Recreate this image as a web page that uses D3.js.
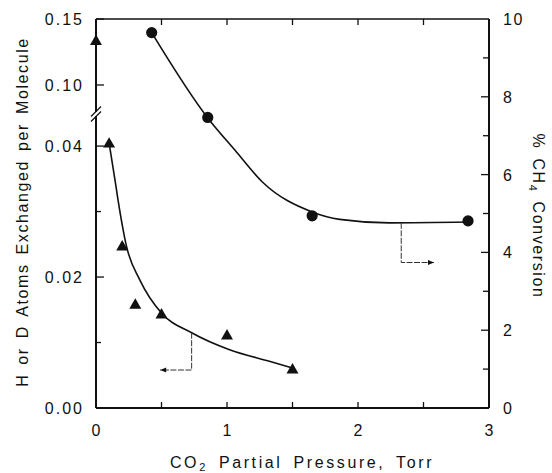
<!DOCTYPE html>
<html>
<head>
<meta charset="utf-8">
<script src="https://cdn.jsdelivr.net/npm/d3@7"></script>
<style>
  body { margin: 0; background: #fff; }
  text { font-family: "Liberation Sans", Arial, sans-serif; fill: #111; }
</style>
</head>
<body>
<div id="chart"></div>
<script>
// Triangles: H or D atoms exchanged per molecule (left axis)
const triX = [0, 0.1, 0.2, 0.3, 0.5, 1.0, 1.5];
const triY = [0.133, 0.0403, 0.0246, 0.0157, 0.0142, 0.011, 0.0058];

// Circles: % CH4 conversion (right axis)
const circX = [0.425, 0.853, 1.65, 2.84];
const circY = [9.65, 7.47, 4.94, 4.81];

// Hand-drawn fit curves
const triFitX = [0.1, 0.145, 0.168, 0.234, 0.336, 0.5, 0.73, 1.02, 1.33, 1.5];
const triFitY = [0.0405, 0.0348, 0.0318, 0.0246, 0.0195, 0.0145, 0.0115, 0.0089, 0.0071, 0.0061];
const circFitX = [0.425, 0.85, 1.06, 1.27, 1.65, 1.86, 2.24, 2.84];
const circFitY = [9.65, 7.47, 6.63, 5.81, 5.04, 4.85, 4.76, 4.78];

// Tick labels
const xTicks = [0, 1, 2, 3];
const leftLowTicks = [0.00, 0.02, 0.04];
const leftHighTicks = [0.10, 0.15];
const rightTicks = [0, 2, 4, 6, 8, 10];

const width = 552, height = 473;
const margin = { top: 19, right: 63, bottom: 65, left: 96 };
const x0 = margin.left, x1 = width - margin.right;
const y0 = height - margin.bottom, y1 = margin.top;
const breakY = 114;

const svg = d3.select('#chart').append('svg')
  .attr('width', width).attr('height', height);

const x = d3.scaleLinear().domain([0, 3]).range([x0, x1]);
// broken left axis: lower and upper segments
const yLow = d3.scaleLinear().domain([0, 0.0449]).range([y0, breakY]);
const yHigh = d3.scaleLinear().domain([0.078, 0.15]).range([breakY, y1]);
const yLeft = v => v > 0.06 ? yHigh(v) : yLow(v);
const yRight = d3.scaleLinear().domain([0, 10]).range([y0, y1]);

// frame
const g = svg.append('g').attr('stroke', '#111').attr('fill', 'none');
g.append('line').attr('x1', x0).attr('x2', x1).attr('y1', y0).attr('y2', y0).attr('stroke-width', 2);
g.append('line').attr('x1', x0).attr('x2', x1).attr('y1', y1).attr('y2', y1).attr('stroke-width', 1.6);
g.append('line').attr('x1', x0).attr('x2', x0).attr('y1', y0).attr('y2', y1).attr('stroke-width', 2);
g.append('line').attr('x1', x1).attr('x2', x1).attr('y1', y0).attr('y2', y1).attr('stroke-width', 2);

// axis break marks
svg.append('rect').attr('x', x0 - 3).attr('y', breakY - 2).attr('width', 6).attr('height', 4).attr('fill', '#fff');
[-2.5, 2.5].forEach(d => {
  svg.append('line').attr('x1', x0 - 5).attr('x2', x0 + 5)
    .attr('y1', breakY + d + 5).attr('y2', breakY + d - 5)
    .attr('stroke', '#111').attr('stroke-width', 1.3);
});

// x ticks, bottom and top (inward)
const xt = d3.range(0.5, 3, 0.5);
xt.forEach(v => {
  g.append('line').attr('x1', x(v)).attr('x2', x(v)).attr('y1', y0).attr('y2', y0 - 6).attr('stroke-width', 1.3);
  g.append('line').attr('x1', x(v)).attr('x2', x(v)).attr('y1', y1).attr('y2', y1 + 6).attr('stroke-width', 1.3);
});
svg.selectAll('.xl').data(xTicks).enter().append('text')
  .attr('x', d => x(d)).attr('y', 436).attr('text-anchor', 'middle')
  .attr('font-size', 16).text(d => d);

// left ticks
[0.01, 0.03].forEach(v => g.append('line').attr('x1', x0).attr('x2', x0 + 5).attr('y1', yLow(v)).attr('y2', yLow(v)).attr('stroke-width', 1.3));
leftLowTicks.concat(leftHighTicks).forEach(v => {
  g.append('line').attr('x1', x0).attr('x2', x0 + 8).attr('y1', yLeft(v)).attr('y2', yLeft(v)).attr('stroke-width', 1.3);
  svg.append('text').attr('x', 84).attr('y', yLeft(v) + 6).attr('text-anchor', 'end')
    .attr('font-size', 16).attr('letter-spacing', 2).text(v.toFixed(2));
});

// right ticks
d3.range(1, 10).forEach(v => {
  const len = v % 2 === 0 ? 8 : 6;
  g.append('line').attr('x1', x1).attr('x2', x1 - len).attr('y1', yRight(v)).attr('y2', yRight(v)).attr('stroke-width', 1.3);
});
svg.selectAll('.rl').data(rightTicks).enter().append('text')
  .attr('x', 503).attr('y', d => yRight(d) + 6)
  .attr('font-size', 16).attr('letter-spacing', 1.5).text(d => d);

// axis titles
svg.append('text').attr('x', 302).attr('y', 468).attr('text-anchor', 'middle')
  .attr('font-size', 16).attr('letter-spacing', 2.6).attr('word-spacing', 4)
  .html('CO<tspan font-size="11" dy="3">2</tspan><tspan dy="-3"> Partial Pressure, Torr</tspan>');
svg.append('text').attr('transform', 'translate(28,212) rotate(-90)').attr('text-anchor', 'middle')
  .attr('font-size', 16).attr('letter-spacing', 1.6).attr('word-spacing', 3)
  .text('H or D Atoms Exchanged per Molecule');
svg.append('text').attr('transform', 'translate(533,216) rotate(90)').attr('text-anchor', 'middle')
  .attr('font-size', 16).attr('letter-spacing', 1.6).attr('word-spacing', 3)
  .html('% CH<tspan font-size="11" dy="4">4</tspan><tspan dy="-4"> Conversion</tspan>');

// fit curves
const line = d3.line().curve(d3.curveMonotoneX);
svg.append('path')
  .attr('d', line(triFitX.map((v, i) => [x(v), yLow(triFitY[i])])))
  .attr('fill', 'none').attr('stroke', '#111').attr('stroke-width', 1.6);
svg.append('path')
  .attr('d', line(circFitX.map((v, i) => [x(v), yRight(circFitY[i])])))
  .attr('fill', 'none').attr('stroke', '#111').attr('stroke-width', 1.6);

// markers
const tri = d3.symbol().type(d3.symbolTriangle).size(62);
svg.selectAll('.tri').data(triX).enter().append('path')
  .attr('d', tri)
  .attr('transform', (d, i) => `translate(${x(d)},${yLeft(triY[i])})`)
  .attr('fill', '#111');
svg.selectAll('.circ').data(circX).enter().append('circle')
  .attr('cx', d => x(d)).attr('cy', (d, i) => yRight(circY[i]))
  .attr('r', 5.6).attr('fill', '#111');

// arrows pointing to each curve's axis
svg.append('defs').append('marker').attr('id', 'ah')
  .attr('viewBox', '0 0 10 10').attr('refX', 10).attr('refY', 5)
  .attr('markerWidth', 8).attr('markerHeight', 6).attr('orient', 'auto')
  .append('path').attr('d', 'M0,1L10,5L0,9Z').attr('fill', '#111');
const arrow = (pts) => svg.append('path')
  .attr('d', d3.line()(pts)).attr('fill', 'none').attr('stroke', '#333')
  .attr('stroke-width', 1).attr('stroke-dasharray', '6,1.5').attr('marker-end', 'url(#ah)');
arrow([[x(0.73), yLow(0.0115)], [x(0.73), yLow(0.0058)], [x(0.49), yLow(0.0058)]]);
arrow([[x(2.33), yRight(4.76)], [x(2.33), yRight(3.74)], [x(2.58), yRight(3.74)]]);
</script>
</body>
</html>
